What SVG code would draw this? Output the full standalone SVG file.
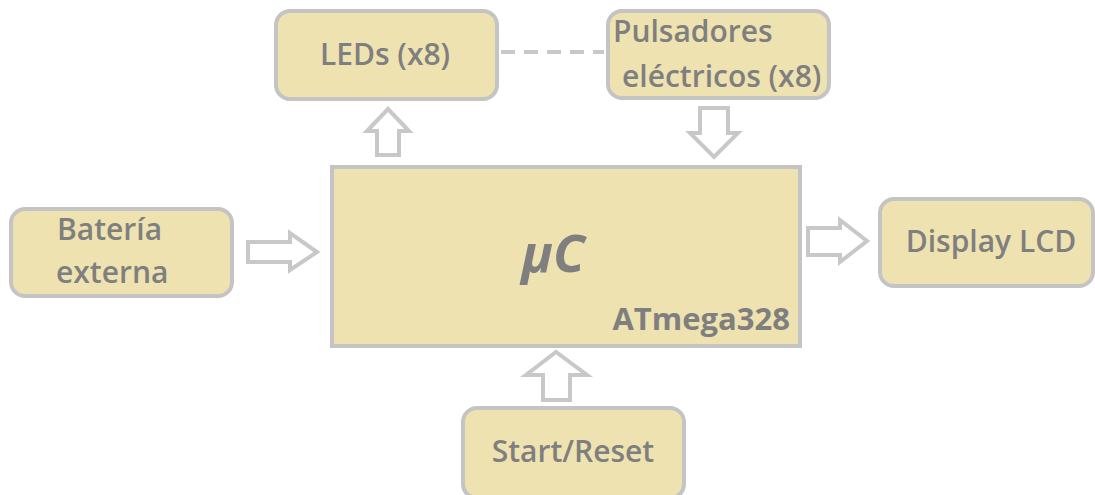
<svg xmlns="http://www.w3.org/2000/svg" width="1095" height="495" viewBox="0 0 1095 495">
<style>
.box{fill:#EEE2B0;stroke:#C4C4C4;stroke-width:4}
.arr{fill:#FFFFFF;stroke:#C8C8C8;stroke-width:4;stroke-linejoin:miter}
.t{font-family:"Open Sans","Liberation Sans",sans-serif;font-size:30px;font-weight:600;fill:#7F7F7F}
.b{font-weight:bold}
.mu{font-size:52px;font-style:italic}
</style>
<rect width="1095" height="495" fill="#FFFFFF"/>
<g id="connectors">
<line x1="501" y1="52" x2="604" y2="52" stroke="#C8C8C8" stroke-width="4" stroke-dasharray="14,9"/>
<path class="arr" d="M377,155 L377,131 L367,131 L388,109 L409,131 L399,131 L399,155 Z"/>
<path class="arr" d="M700,108 L728,108 L728,133 L738,133 L714,157 L690,133 L700,133 Z"/>
<path class="arr" d="M248,242 L290,242 L290,233 L317,252 L290,270 L290,262 L248,262 Z"/>
<path class="arr" d="M808,228 L840,228 L840,220 L867,241 L840,262 L840,255 L808,255 Z"/>
<path class="arr" d="M543,400 L543,375 L526,375 L556,352 L587,375 L570,375 L570,400 Z"/>
</g>
<g id="leds">
<rect class="box" x="276" y="11" width="221" height="88" rx="14"/>
<text class="t" x="385" y="65" text-anchor="middle">LEDs (x8)</text>
</g>
<g id="pulsadores">
<rect class="box" x="608" y="11" width="221" height="87" rx="14"/>
<text class="t" x="613" y="42">Pulsadores</text>
<text class="t" x="622" y="87">eléctricos (x8)</text>
</g>
<g id="uc">
<rect class="box" x="332" y="167" width="468" height="179" rx="0"/>
<text class="t b mu" x="553" y="272" text-anchor="middle">μC</text>
<text class="t b" x="790" y="330" text-anchor="end" style="font-size:31px">ATmega328</text>
</g>
<g id="bateria">
<rect class="box" x="11" y="209" width="221" height="87" rx="14"/>
<text class="t" x="57" y="240">Batería</text>
<text class="t" x="56" y="283">externa</text>
</g>
<g id="display">
<rect class="box" x="880" y="199" width="213" height="87" rx="14"/>
<text class="t" x="991" y="252" text-anchor="middle">Display LCD</text>
</g>
<g id="start">
<rect class="box" x="463" y="408" width="221" height="90" rx="14"/>
<text class="t" x="573" y="462" text-anchor="middle">Start/Reset</text>
</g>
</svg>
